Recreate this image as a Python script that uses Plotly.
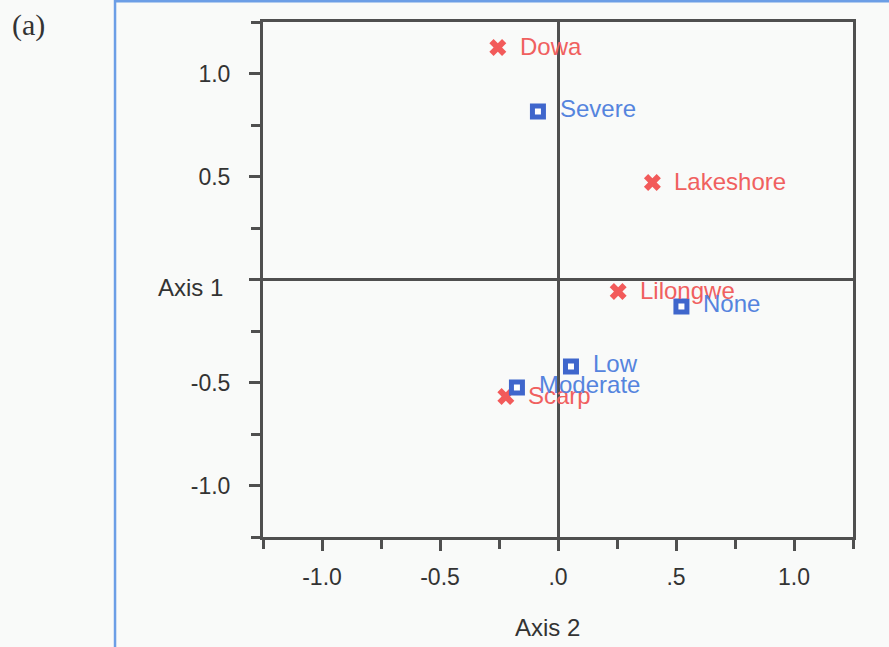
import plotly.graph_objects as go

# Correspondence analysis scores: regions (red crosses) and severity levels (blue squares)
regions = ["Dowa", "Lakeshore", "Lilongwe", "Scarp"]
region_axis2 = [-0.255, 0.40, 0.255, -0.221]
region_axis1 = [1.126, 0.471, -0.058, -0.568]

levels = ["Severe", "None", "Low", "Moderate"]
level_axis2 = [-0.085, 0.523, 0.055, -0.174]
level_axis1 = [0.816, -0.131, -0.422, -0.524]

major_ticks = [-1.0, -0.5, 0.0, 0.5, 1.0]
x_labels = ["-1.0", "-0.5", ".0", ".5", "1.0"]
y_labels = ["-1.0", "-0.5", "", "0.5", "1.0"]
minor_ticks = [-1.25, -0.75, -0.25, 0.25, 0.75, 1.25]

RED = "#f25a5a"
RED_TEXT = "#f0605f"
BLUE = "#3f66cc"
BLUE_TEXT = "#5584de"
AXIS = "#4f4f4f"
BG = "#f9faf9"
FONT = "Liberation Sans, Arial, sans-serif"

fig = go.Figure()

fig.add_trace(go.Scatter(
    x=region_axis2, y=region_axis1, mode="markers",
    marker=dict(symbol="x", size=15, color=RED, line=dict(width=0)),
    showlegend=False, hoverinfo="text", text=regions,
))
fig.add_trace(go.Scatter(
    x=level_axis2, y=level_axis1, mode="markers",
    marker=dict(symbol="square", size=11, color="white", line=dict(color=BLUE, width=5)),
    showlegend=False, hoverinfo="text", text=levels,
))

annotations = []
for name, xv, yv in zip(regions, region_axis2, region_axis1):
    annotations.append(dict(x=xv, y=yv, text=name, showarrow=False, xanchor="left",
                            yanchor="middle", xshift=20, yshift=1,
                            font=dict(family=FONT, size=24, color=RED_TEXT)))
for name, xv, yv in zip(levels, level_axis2, level_axis1):
    annotations.append(dict(x=xv, y=yv, text=name, showarrow=False, xanchor="left",
                            yanchor="middle", xshift=20, yshift=3,
                            font=dict(family=FONT, size=24, color=BLUE_TEXT)))

# Axis titles and panel letter
annotations += [
    dict(x=-0.1237, y=0.4854, xref="paper", yref="paper", text="Axis 1", showarrow=False,
         xanchor="center", yanchor="middle", font=dict(family=FONT, size=24, color="#333333")),
    dict(x=0.483, y=-0.1748, xref="paper", yref="paper", text="Axis 2", showarrow=False,
         xanchor="center", yanchor="middle", font=dict(family=FONT, size=24, color="#333333")),
    dict(x=-0.398, y=0.995, xref="paper", yref="paper", text="(a)", showarrow=False,
         xanchor="center", yanchor="middle",
         font=dict(family="Liberation Serif, Times New Roman, serif", size=30, color="#333333")),
]

axis_common = dict(
    range=[-1.25, 1.25], tickmode="array", tickvals=major_ticks,
    ticks="outside", ticklen=11, tickwidth=3, tickcolor=AXIS,
    minor=dict(tickmode="array", tickvals=minor_ticks, ticks="outside", ticklen=9,
               tickwidth=3, tickcolor=AXIS, showgrid=False),
    showline=True, linecolor=AXIS, linewidth=3, mirror=True,
    showgrid=False, zeroline=True, zerolinecolor=AXIS, zerolinewidth=2.5,
    tickfont=dict(family=FONT, size=23, color="#333333"),
)

fig.update_layout(
    width=889, height=647,
    margin=dict(l=263, r=36, t=22, b=110),
    paper_bgcolor=BG, plot_bgcolor=BG,
    xaxis=dict(axis_common, ticktext=x_labels, ticklabelstandoff=6),
    yaxis=dict(axis_common, ticktext=y_labels, ticklabelstandoff=14),
    annotations=annotations,
    shapes=[
        dict(type="line", xref="paper", yref="paper", x0=-0.2508, x1=-0.2508, y0=-0.25, y1=1.045,
             line=dict(color="#6c9ee6", width=2.5)),
        dict(type="line", xref="paper", yref="paper", x0=-0.2508, x1=1.1, y0=1.0405, y1=1.0405,
             line=dict(color="#6c9ee6", width=2.5)),
    ],
)

fig.write_html("out.html")
